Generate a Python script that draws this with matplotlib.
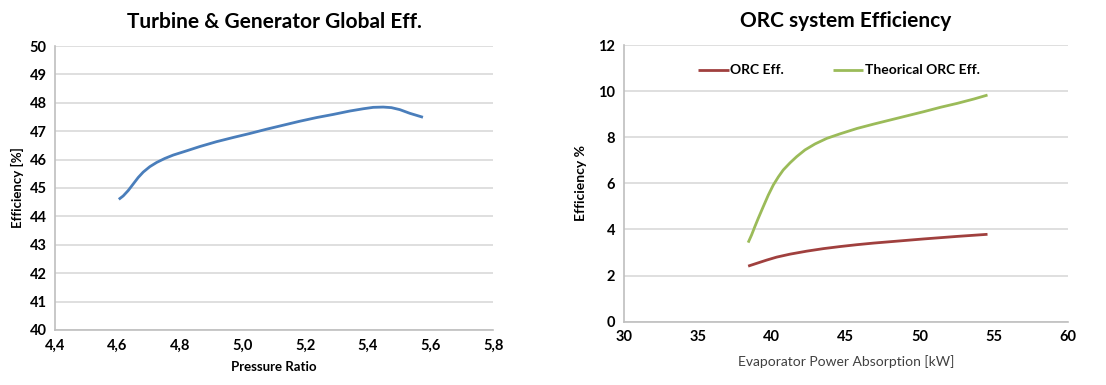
import numpy as np
import matplotlib
matplotlib.use("Agg")
from matplotlib import pyplot as plt

# Turbine & generator global efficiency vs pressure ratio
pressure_ratio = [4.604, 4.618, 4.634, 4.650, 4.666, 4.682, 4.703, 4.725, 4.751,
                  4.778, 4.821, 4.863, 4.916, 4.970, 5.023, 5.076, 5.129, 5.182,
                  5.236, 5.289, 5.342, 5.385, 5.417, 5.449, 5.475, 5.502, 5.534,
                  5.576]
global_eff = [44.60, 44.72, 44.91, 45.14, 45.37, 45.56, 45.75, 45.90, 46.04,
              46.16, 46.31, 46.46, 46.63, 46.78, 46.92, 47.07, 47.21, 47.35,
              47.48, 47.59, 47.71, 47.79, 47.84, 47.85, 47.83, 47.76, 47.63,
              47.49]
left_xticks = [4.4, 4.6, 4.8, 5.0, 5.2, 5.4, 5.6, 5.8]
left_yticks = list(range(40, 51))

# ORC system efficiency vs evaporator power absorption
theo_power = [38.41, 38.64, 38.86, 39.09, 39.43, 39.77, 40.11, 40.45, 40.78,
              41.24, 41.69, 42.25, 42.93, 43.72, 44.63, 45.76, 46.89, 48.02,
              49.15, 50.28, 51.41, 52.54, 53.67, 54.58]
theo_eff = [3.43, 3.76, 4.12, 4.48, 4.99, 5.49, 5.93, 6.28, 6.58, 6.89, 7.16,
            7.45, 7.71, 7.95, 8.15, 8.38, 8.57, 8.75, 8.93, 9.11, 9.30, 9.47,
            9.66, 9.83]
orc_power = [38.41, 38.98, 39.65, 40.33, 41.24, 42.37, 43.50, 44.63, 45.76,
             46.89, 48.02, 50.28, 52.54, 54.58]
orc_eff = [2.41, 2.53, 2.67, 2.80, 2.93, 3.06, 3.17, 3.26, 3.34, 3.41, 3.47,
           3.59, 3.70, 3.79]
right_xticks = [30, 35, 40, 45, 50, 55, 60]
right_yticks = [0, 2, 4, 6, 8, 10, 12]

plt.rcParams["font.family"] = ["Lato", "DejaVu Sans"]

fig = plt.figure(figsize=(11.06, 3.85), dpi=100)
ax1 = fig.add_axes([0.0497, 0.1429, 0.3961, 0.7376])
ax2 = fig.add_axes([0.5639, 0.1644, 0.4015, 0.7187])

grid_col = "#d9d9d9"
spine_col = "#bfbfbf"
line_kw = dict(linewidth=2, solid_joinstyle="round", solid_capstyle="butt")


def style_axes(ax):
    for side in ("top", "right"):
        ax.spines[side].set_visible(False)
    for side in ("left", "bottom"):
        ax.spines[side].set_color(spine_col)
        ax.spines[side].set_linewidth(1.2)
    ax.grid(axis="y", color=grid_col, linewidth=1.2)
    ax.set_axisbelow(True)
    ax.tick_params(length=0, labelsize=10.5, pad=6)
    for lab in ax.get_xticklabels() + ax.get_yticklabels():
        lab.set_fontweight("bold")


# Left panel
ax1.plot(pressure_ratio, global_eff, color="#4a7ebb", **line_kw)
ax1.set_xlim(4.4, 5.8)
ax1.set_ylim(40, 50)
ax1.set_xticks(left_xticks)
ax1.set_xticklabels([f"{v:.1f}".replace(".", ",") for v in left_xticks])
ax1.set_yticks(left_yticks)
style_axes(ax1)
ax1.set_title("Turbine & Generator Global Eff.", fontsize=15, fontweight="bold", pad=13)
ax1.set_xlabel("Pressure Ratio", fontsize=9.5, fontweight="bold", labelpad=6)
ax1.set_ylabel("Efficiency [%]", fontsize=9.5, fontweight="bold", labelpad=4)

# Right panel
ax2.plot(orc_power, orc_eff, color="#a0403e", label="ORC Eff.", **line_kw)
ax2.plot(theo_power, theo_eff, color="#9bbb59", label="Theorical ORC Eff.", **line_kw)
ax2.set_xlim(30, 60)
ax2.set_ylim(0, 12)
ax2.set_xticks(right_xticks)
ax2.set_yticks(right_yticks)
style_axes(ax2)
ax2.set_title("ORC system Efficiency", fontsize=15, fontweight="bold", pad=13)
ax2.set_xlabel("Evaporator Power Absorption [kW]", fontsize=10, color="#404040", labelpad=8)
ax2.set_ylabel("Efficiency %", fontsize=10, fontweight="bold", labelpad=8)
leg = ax2.legend(loc="upper left", bbox_to_anchor=(0.14, 0.975), ncol=2, frameon=False,
                 fontsize=10, handlelength=2.2, handletextpad=0.1, columnspacing=3.5)
for t in leg.get_texts():
    t.set_fontweight("bold")

fig.savefig("out.png", dpi=100)
